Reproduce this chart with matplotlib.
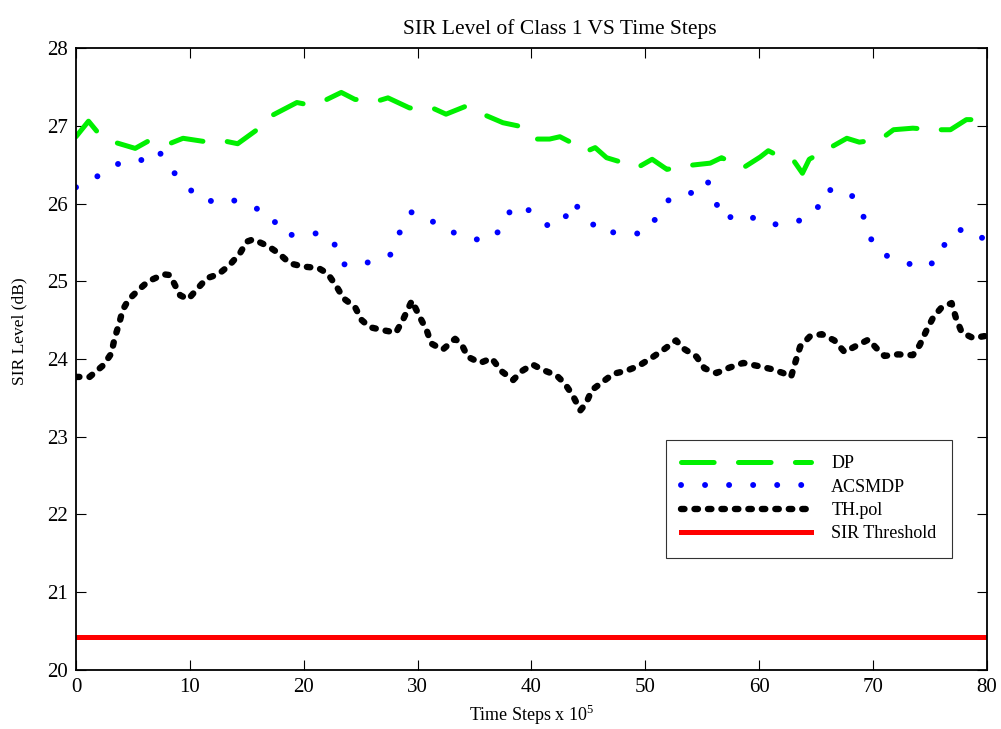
import matplotlib
matplotlib.use("Agg")
import matplotlib.pyplot as plt

plt.rcParams['font.family'] = ['Liberation Serif', 'DejaVu Serif']
plt.rcParams['mathtext.fontset'] = 'custom'
plt.rcParams['mathtext.rm'] = 'Liberation Serif'
plt.rcParams['lines.scale_dashes'] = False

# DP series
dp_x = [0, 1.1, 2, 3.6, 5.2, 6.3, 8.2, 9.4, 11.2, 13.2, 14.2, 15.9, 17.3, 19.4, 20.1,
        21.9, 23.3, 24.5, 26.5, 27.4, 29.3, 31.3, 32.5, 34.2, 35.9, 37.5, 38.8, 40.3,
        41.6, 42.5, 43.3, 44.8, 45.6, 46.6, 47.5, 49.4, 50.6, 51.9, 53.8, 55.7, 56.7,
        58.6, 60.1, 60.8, 61.2, 62.9, 63.8, 64.4, 66.0, 67.7, 68.8, 70.7, 71.8, 73.5,
        75.4, 76.8, 78.2, 80]
dp_y = [26.86, 27.06, 26.90, 26.78, 26.71, 26.80, 26.77, 26.84, 26.80, 26.80, 26.77,
        26.95, 27.14, 27.30, 27.28, 27.33, 27.43, 27.34, 27.32, 27.36, 27.23, 27.23,
        27.15, 27.25, 27.14, 27.04, 27.00, 26.83, 26.83, 26.86, 26.80, 26.67, 26.72,
        26.59, 26.55, 26.47, 26.57, 26.44, 26.49, 26.52, 26.59, 26.46, 26.60, 26.68,
        26.65, 26.58, 26.39, 26.57, 26.70, 26.84, 26.79, 26.83, 26.95, 26.97, 26.95,
        26.95, 27.08, 27.08]

# ACSMDP series
ac_x = [0, 2.0, 3.7, 5.4, 7.2, 8.3, 9.7, 11.3, 13.3, 15.2, 17.1, 18.0, 19.5, 21.3, 22.6,
        23.2, 24.5, 26.0, 27.6, 28.4, 29.4, 30.8, 32.0, 34.0, 35.9, 37.5, 38.3, 39.9,
        41.5, 42.8, 43.5, 44.9, 45.9, 47.8, 49.8, 51.0, 52.0, 53.8, 55.4, 56.1, 56.7,
        58.8, 60.4, 62.0, 63.5, 65.0, 65.8, 67.9, 69.0, 69.5, 70.5, 72.4, 74.4, 75.9,
        76.5, 78.0, 79.7, 80]
ac_y = [26.21, 26.36, 26.51, 26.53, 26.69, 26.45, 26.22, 26.02, 26.07, 25.97, 25.87,
        25.61, 25.59, 25.62, 25.53, 25.23, 25.19, 25.26, 25.34, 25.62, 25.89, 25.84,
        25.68, 25.59, 25.51, 25.68, 25.97, 25.91, 25.71, 25.75, 26.03, 25.84, 25.63,
        25.63, 25.61, 25.82, 26.04, 26.11, 26.31, 26.07, 25.80, 25.87, 25.74, 25.73,
        25.78, 25.90, 26.18, 26.15, 25.93, 25.63, 25.37, 25.26, 25.17, 25.29, 25.58,
        25.68, 25.55, 25.53]

# TH.pol series
th_x = [0, 1.2, 2.4, 3.1, 3.4, 3.8, 4.1, 4.6, 5.5, 6.35, 7.7, 8.25, 8.7, 9.15, 9.86,
        10.7, 11.5, 12.5, 13.5, 14.4, 15.0, 15.57, 16.9, 17.8, 18.8, 19.95, 21.3, 22.1,
        22.9, 23.5, 24.5, 25.1, 25.8, 27.0, 28.1, 28.7, 29.5, 30.2, 30.8, 31.2, 32.2,
        33.3, 33.9, 34.4, 35.5, 36.5, 37.4, 38.4, 39.1, 40.1, 41.0, 42.2, 42.9, 43.6,
        44.3, 44.8, 45.3, 46.2, 47.2, 48.35, 49.4, 50.7, 51.6, 52.7, 53.3, 54.5, 55.2,
        56.25, 57.4, 58.6, 59.9, 61.1, 62.1, 62.8, 63.2, 63.6, 64.45, 65.5, 66.6, 67.5,
        68.4, 69.6, 70.3, 71.0, 72.2, 73.5, 74.1, 74.7, 75.3, 76.0, 76.9, 77.3, 77.8,
        78.8, 80]
th_y = [23.77, 23.77, 23.92, 24.07, 24.27, 24.46, 24.63, 24.76, 24.89, 25.00, 25.09,
        25.08, 24.95, 24.82, 24.77, 24.91, 25.04, 25.09, 25.21, 25.36, 25.51, 25.54,
        25.45, 25.36, 25.23, 25.19, 25.17, 25.10, 24.93, 24.78, 24.67, 24.50, 24.41,
        24.37, 24.34, 24.50, 24.75, 24.54, 24.37, 24.20, 24.12, 24.26, 24.18, 24.03,
        23.95, 24.01, 23.84, 23.73, 23.84, 23.93, 23.86, 23.79, 23.69, 23.54, 23.34,
        23.43, 23.60, 23.70, 23.81, 23.85, 23.91, 24.03, 24.12, 24.24, 24.14, 24.03,
        23.88, 23.82, 23.89, 23.95, 23.91, 23.87, 23.82, 23.77, 23.97, 24.16, 24.29,
        24.32, 24.24, 24.09, 24.16, 24.25, 24.14, 24.04, 24.06, 24.05, 24.18, 24.37,
        24.54, 24.66, 24.72, 24.52, 24.34, 24.27, 24.30]

# SIR threshold
thr_x = [0, 80]
thr_y = [20.42, 20.42]

labels = ['DP', 'ACSMDP', 'TH.pol', 'SIR Threshold']
x_ticks = [0, 10, 20, 30, 40, 50, 60, 70, 80]
y_ticks = [20, 21, 22, 23, 24, 25, 26, 27, 28]

fig = plt.figure(figsize=(10.01, 7.29), dpi=100)
ax = fig.add_axes([0.0759, 0.081, 0.910, 0.853])

ax.plot(dp_x, dp_y, color='#00f000', lw=3.6, dashes=(23.5, 17.5),
        dash_capstyle='round', solid_capstyle='round', label=labels[0])
ax.plot(ac_x, ac_y, color='#0000ff', lw=4.3, dashes=(0.01, 17.3),
        dash_capstyle='round', label=labels[1])
ax.plot(th_x, th_y, color='black', lw=4.6, dashes=(2.5, 7.2),
        dash_capstyle='round', label=labels[2])
ax.plot(thr_x, thr_y, color='#ff0000', lw=3.6, label=labels[3])

ax.set_xlim(0, 80)
ax.set_ylim(20, 28)
ax.set_xticks(x_ticks)
ax.set_yticks(y_ticks)
ax.tick_params(direction='in', length=7, width=0.8, top=True, right=True,
               labelsize=15, pad=6)
for s in ax.spines.values():
    s.set_linewidth(1.3)

ax.set_title('SIR Level of Class 1 VS Time Steps', fontsize=15.5, pad=10, x=0.531)
ax.set_xlabel(r'Time Steps x 10$^{5}$', fontsize=13, labelpad=4)
ax.set_ylabel('SIR Level (dB)', fontsize=12.5)
ax.yaxis.set_label_coords(-0.053, 0.545)

leg = ax.legend(loc='upper right', bbox_to_anchor=(0.9616, 0.3698), fontsize=13,
                handlelength=7.2, frameon=True, fancybox=False, borderpad=0.85,
                labelspacing=0.35, handletextpad=1.1, borderaxespad=0)
leg.get_frame().set_edgecolor('black')
leg.get_frame().set_linewidth(0.8)

fig.savefig('out.png', dpi=100)
